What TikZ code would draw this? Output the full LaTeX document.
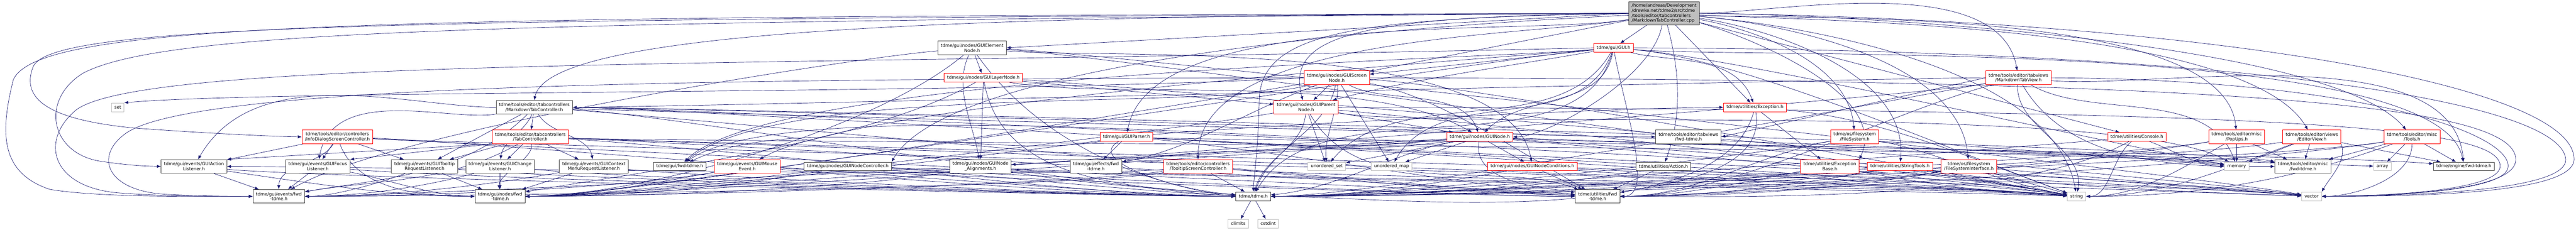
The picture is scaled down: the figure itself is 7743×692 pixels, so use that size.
\documentclass[tikz,border=0pt]{standalone}
\usepackage{fontspec}
\setmainfont{DejaVu Sans}
\usepackage{tikz}
\usetikzlibrary{arrows.meta}
\definecolor{midnightblue}{RGB}{25,25,112}
\definecolor{grey25}{RGB}{64,64,64}
\definecolor{grey75}{RGB}{191,191,191}
\pgfdeclarelayer{edges}
\pgfsetlayers{edges,main}

\begin{document}
\begin{tikzpicture}[line cap=round,line join=round,x=0.75pt,y=0.75pt,
  box/.style={line width=1pt,fill=white,align=center,inner xsep=6.5pt,inner ysep=1pt,
    minimum height=19.5pt,font=\fontsize{10}{11.25}\selectfont},
  hdr/.style={box,draw=grey25},
  trunc/.style={box,draw=red},
  sys/.style={box,draw=grey75},
  two/.style={minimum height=30.75pt},
  rootbox/.style={box,draw=grey25,fill=grey75,align=left,minimum height=52.5pt},
  dep/.style={draw=midnightblue,line width=0.8pt,-{Latex[length=9pt,width=7pt]}}]
\useasboundingbox (0,0) rectangle (7743,-692);

\node[rootbox] (root) at (5002,-40) {/home/andreas/Development\\/drewke.net/tdme2/src/tdme\\/tools/editor/tabcontrollers\\/MarkdownTabController.cpp};
\node[trunc] (gui) at (4850,-144) {tdme/gui/GUI.h};
\node[hdr,two] (elem) at (2922,-144) {tdme/gui/nodes/GUIElement\\Node.h};
\node[trunc,two] (scr) at (4018,-234) {tdme/gui/nodes/GUIScreen\\Node.h};
\node[trunc] (layer) at (2956,-234) {tdme/gui/nodes/GUILayerNode.h};
\node[trunc,two] (mtv) at (6067,-234) {tdme/tools/editor/tabviews\\/MarkdownTabView.h};
\node[trunc,two] (par) at (3926,-323) {tdme/gui/nodes/GUIParent\\Node.h};
\node[hdr,two] (mtc) at (1606,-323) {tdme/tools/editor/tabcontrollers\\/MarkdownTabController.h};
\node[trunc] (exc) at (5275,-323) {tdme/utilities/Exception.h};
\node[sys] (set) at (354,-323) {set};
\node[trunc,two] (info) at (1014,-412) {tdme/tools/editor/controllers\\/InfoDialogScreenController.h};
\node[trunc,two] (tabc) at (1594,-412) {tdme/tools/editor/tabcontrollers\\/TabController.h};
\node[trunc] (parser) at (3386,-412) {tdme/gui/GUIParser.h};
\node[trunc] (gnode) at (4448,-412) {tdme/gui/nodes/GUINode.h};
\node[hdr,two] (tvfwd) at (5075,-412) {tdme/tools/editor/tabviews\\/fwd-tdme.h};
\node[trunc,two] (fs) at (5575,-412) {tdme/os/filesystem\\/FileSystem.h};
\node[trunc] (console) at (6423,-412) {tdme/utilities/Console.h};
\node[trunc,two] (popups) at (6723,-412) {tdme/tools/editor/misc\\/PopUps.h};
\node[trunc,two] (edview) at (6949,-412) {tdme/tools/editor/views\\/EditorView.h};
\node[trunc,two] (tools) at (7250,-412) {tdme/tools/editor/misc\\/Tools.h};
\node[hdr,two] (action) at (583,-501) {tdme/gui/events/GUIAction\\Listener.h};
\node[hdr,two] (focus) at (955,-501) {tdme/gui/events/GUIFocus\\Listener.h};
\node[hdr,two] (tipl) at (1276,-501) {tdme/gui/events/GUITooltip\\RequestListener.h};
\node[hdr,two] (change) at (1503,-501) {tdme/gui/events/GUIChange\\Listener.h};
\node[hdr,two] (ctxmenu) at (1785,-501) {tdme/gui/events/GUIContext\\MenuRequestListener.h};
\node[hdr] (guifwd) at (2043,-501) {tdme/gui/fwd-tdme.h};
\node[trunc,two] (mouse) at (2246,-501) {tdme/gui/events/GUIMouse\\Event.h};
\node[hdr] (nctrl) at (2548,-501) {tdme/gui/nodes/GUINodeController.h};
\node[hdr,two] (align) at (2947,-501) {tdme/gui/nodes/GUINode\\\_Alignments.h};
\node[hdr,two] (efffwd) at (3294,-501) {tdme/gui/effects/fwd\\-tdme.h};
\node[trunc,two] (tipctrl) at (3601,-501) {tdme/tools/editor/controllers\\/TooltipScreenController.h};
\node[sys] (uset) at (3988,-501) {unordered\_set};
\node[sys] (umap) at (4183,-501) {unordered\_map};
\node[trunc] (cond) at (4606,-501) {tdme/gui/nodes/GUINodeConditions.h};
\node[hdr] (uaction) at (5000,-501) {tdme/utilities/Action.h};
\node[trunc,two] (excb) at (5500,-501) {tdme/utilities/Exception\\Base.h};
\node[trunc] (strt) at (5711,-501) {tdme/utilities/StringTools.h};
\node[trunc,two] (fsi) at (5918,-501) {tdme/os/filesystem\\/FileSystemInterface.h};
\node[sys] (memory) at (6723,-501) {memory};
\node[hdr,two] (miscfwd) at (6922,-501) {tdme/tools/editor/misc\\/fwd-tdme.h};
\node[sys] (array) at (7161,-501) {array};
\node[hdr] (engfwd) at (7406,-501) {tdme/engine/fwd-tdme.h};
\node[hdr,two] (evfwd) at (838,-591) {tdme/gui/events/fwd\\-tdme.h};
\node[hdr,two] (ndfwd) at (1503,-591) {tdme/gui/nodes/fwd\\-tdme.h};
\node[hdr] (tdme) at (3767,-591) {tdme/tdme.h};
\node[hdr,two] (utfwd) at (4802,-591) {tdme/utilities/fwd\\-tdme.h};
\node[sys] (string) at (6242,-591) {string};
\node[sys] (vector) at (6948,-591) {vector};
\node[sys] (climits) at (3722,-673) {climits};
\node[sys] (cstdint) at (3812,-673) {cstdint};

\begin{pgfonlayer}{edges}
% root file
\draw[dep] (root.west) .. controls (3000,-45) and (1650,-80) .. (mtc.north);
\draw[dep] (root) -- (gui);
\draw[dep] (root) .. controls +(-100:150pt) and +(0:150pt) .. (gnode);
\draw[dep] (root) -- (scr);
\draw[dep] (root.west) .. controls (4100,-50) and (3860,-100) .. (par.115);
\draw[dep] (root.west) -- (elem.east);
\draw[dep] (root) .. controls +(190:300pt) and +(80:300pt) .. (parser);
\draw[dep] (root) .. controls +(190:300pt) and +(90:300pt) .. (tipctrl);
\draw[dep] (root.west) .. controls (4100,-55) and (3790,-90) .. (3785,-300) .. controls (3782,-450) and (3770,-520) .. (tdme.north);
\draw[dep] (root) .. controls +(183:300pt) and +(60:300pt) .. (nctrl.north east);
\draw[dep] (root.west) .. controls (1500,-65) and (500,-90) .. (250,-220) .. controls (120,-300) and (150,-460) .. (300,-485) .. controls (400,-500) and (450,-500) .. (action.west);
\draw[dep] (root.west) .. controls (1200,-58) and (160,-70) .. (100,-200) .. controls (60,-300) and (150,-360) .. (400,-385) .. controls (600,-400) and (800,-410) .. (info.west);
\draw[dep] (root.west) .. controls (1200,-50) and (120,-60) .. (40,-240) .. controls (0,-400) and (0,-520) .. (150,-570) .. controls (300,-595) and (600,-591) .. (evfwd.west);
\draw[dep] (root) .. controls +(-10:180pt) and +(95:180pt) .. (fs);
\draw[dep] (root) .. controls +(-5:250pt) and +(95:250pt) .. (fsi);
\draw[dep] (root) .. controls +(-8:220pt) and +(85:220pt) .. (strt);
\draw[dep] (root) .. controls +(-15:170pt) and +(65:170pt) .. (excb.north east);
\draw[dep] (root) -- (exc);
\draw[dep] (root) .. controls +(0:250pt) and +(100:250pt) .. (mtv);
\draw[dep] (root) -- (console);
\draw[dep] (root) .. controls +(-3:300pt) and +(95:300pt) .. (popups);
\draw[dep] (root) .. controls +(-3:300pt) and +(120:300pt) .. (edview);
\draw[dep] (root) .. controls +(0:300pt) and +(130:300pt) .. (tools);
\draw[dep] (root) .. controls +(-75:130pt) and +(70:130pt) .. (uaction);
\draw[dep] (root) .. controls +(-5:300pt) and +(100:300pt) .. (string);
\draw[dep] (root.east) .. controls (6600,-60) and (7740,-250) .. (7737,-480) .. controls (7735,-580) and (7300,-591) .. (vector.east);
% GUI.h
\draw[dep] (gui.west) .. controls (2400,-200) and (450,-170) .. (230,-330) .. controls (120,-420) and (150,-560) .. (350,-580) .. controls (500,-592) and (650,-591) .. (evfwd.west);
\draw[dep] (gui) -- (scr);
\draw[dep] (gui) .. controls +(190:250pt) and +(15:250pt) .. (par);
\draw[dep] (gui) .. controls +(-100:140pt) and +(45:140pt) .. (gnode);
\draw[dep] (gui) .. controls +(185:300pt) and +(30:300pt) .. (mouse);
\draw[dep] (gui) .. controls +(185:300pt) and +(45:300pt) .. (guifwd);
\draw[dep] (gui) .. controls +(185:300pt) and +(0:300pt) .. (ndfwd);
\draw[dep] (gui) .. controls +(-105:300pt) and +(60:300pt) .. (tdme);
\draw[dep] (gui) .. controls +(-80:130pt) and +(0:130pt) .. (utfwd);
\draw[dep] (gui) .. controls +(-120:250pt) and +(50:250pt) .. (uset);
\draw[dep] (gui) .. controls +(-110:220pt) and +(60:220pt) .. (umap);
\draw[dep] (gui) .. controls +(-5:300pt) and +(160:300pt) .. (string);
\draw[dep] (gui) .. controls +(-5:300pt) and +(100:300pt) .. (engfwd);
\draw[dep] (gui) .. controls +(-5:300pt) and +(170:300pt) .. (memory);
\draw[dep] (gui) .. controls +(-15:130pt) and +(110:130pt) .. (exc);
\draw[dep] (gui.east) .. controls (6700,-150) and (7700,-300) .. (7712,-480) .. controls (7715,-570) and (7300,-589) .. (vector.east);
% GUIScreenNode.h
\draw[dep] (scr) -- (par);
\draw[dep] (scr) .. controls +(-85:70pt) and +(95:70pt) .. (uset);
\draw[dep] (scr) -- (umap);
\draw[dep] (scr) .. controls +(-30:120pt) and +(110:120pt) .. (gnode);
\draw[dep] (scr.west) .. controls (3000,-285) and (800,-270) .. (set.north east);
\draw[dep] (scr.west) .. controls (2200,-238) and (600,-250) .. (380,-400) .. controls (280,-470) and (320,-575) .. (500,-585) .. controls (600,-590) and (700,-591) .. (evfwd.west);
\draw[dep] (scr) .. controls +(190:300pt) and +(0:300pt) .. (ndfwd);
\draw[dep] (scr) .. controls +(-100:120pt) and +(70:120pt) .. (tdme);
\draw[dep] (scr) .. controls +(-10:220pt) and +(150:220pt) .. (utfwd);
\draw[dep] (scr) .. controls +(-3:300pt) and +(170:300pt) .. (string);
\draw[dep] (scr) .. controls +(195:300pt) and +(40:300pt) .. (guifwd);
\draw[dep] (scr) .. controls +(200:220pt) and +(10:220pt) .. (efffwd);
\draw[dep] (scr.east) .. controls (6800,-240) and (7560,-320) .. (7562,-480) .. controls (7562,-570) and (7250,-588) .. (vector.east);
% GUIParentNode.h
\draw[dep] (par) -- (gnode);
\draw[dep] (par) -- (uset);
\draw[dep] (par) .. controls +(-60:250pt) and +(160:250pt) .. (utfwd);
\draw[dep] (par) .. controls +(190:300pt) and +(0:300pt) .. (ndfwd);
\draw[dep] (par) .. controls +(-95:90pt) and +(75:90pt) .. (tdme);
\draw[dep] (par) .. controls +(-5:300pt) and +(170:300pt) .. (string);
\draw[dep] (par) .. controls +(-10:300pt) and +(150:300pt) .. (memory);
\draw[dep] (par.east) .. controls (6900,-330) and (7515,-380) .. (7515,-500) .. controls (7515,-570) and (7200,-590) .. (vector.east);
% GUIElementNode.h, GUILayerNode.h
\draw[dep] (elem) -- (layer);
\draw[dep] (elem) .. controls +(-115:100pt) and +(100:100pt) .. (align);
\draw[dep] (elem) .. controls +(-140:300pt) and +(0:300pt) .. (ndfwd);
\draw[dep] (elem) .. controls +(-55:250pt) and +(175:250pt) .. (tdme);
\draw[dep] (elem) .. controls +(-5:300pt) and +(100:300pt) .. (cond);
\draw[dep] (elem) .. controls +(-3:300pt) and +(170:300pt) .. (string);
\draw[dep] (elem) .. controls +(185:300pt) and +(30:300pt) .. (evfwd);
\draw[dep] (elem) .. controls +(-2:300pt) and +(170:300pt) .. (vector);
\draw[dep] (layer) -- (align);
\draw[dep] (layer) -- (par);
\draw[dep] (layer) .. controls +(-80:250pt) and +(175:250pt) .. (tdme);
\draw[dep] (layer) .. controls +(-150:300pt) and +(10:300pt) .. (ndfwd);
\draw[dep] (layer) .. controls +(-10:300pt) and +(150:300pt) .. (gnode);
\draw[dep] (layer) .. controls +(-3:300pt) and +(172:300pt) .. (vector);
% GUINode.h and friends
\draw[dep] (gnode) -- (cond);
\draw[dep] (gnode) -- (uset);
\draw[dep] (gnode) -- (umap);
\draw[dep] (gnode) .. controls +(-100:110pt) and +(170:110pt) .. (utfwd);
\draw[dep] (gnode) .. controls +(190:190pt) and +(5:190pt) .. (tdme);
\draw[dep] (gnode) .. controls +(185:300pt) and +(0:300pt) .. (ndfwd);
\draw[dep] (gnode) .. controls +(185:300pt) and +(0:300pt) .. (evfwd);
\draw[dep] (gnode) .. controls +(188:300pt) and +(10:300pt) .. (efffwd);
\draw[dep] (gnode) .. controls +(185:300pt) and +(35:300pt) .. (guifwd);
\draw[dep] (gnode) -- (align);
\draw[dep] (gnode) .. controls +(-3:300pt) and +(175:300pt) .. (engfwd);
\draw[dep] (gnode) .. controls +(-2:300pt) and +(178:300pt) .. (array);
\draw[dep] (gnode) .. controls +(-5:300pt) and +(172:300pt) .. (string);
\draw[dep] (gnode) .. controls +(-4:300pt) and +(175:300pt) .. (vector);
\draw[dep] (cond) -- (utfwd);
\draw[dep] (cond) .. controls +(190:230pt) and +(0:230pt) .. (tdme);
\draw[dep] (cond) .. controls +(-5:300pt) and +(175:300pt) .. (string);
\draw[dep] (cond) .. controls +(-3:300pt) and +(178:300pt) .. (vector);
\draw[dep] (nctrl) .. controls +(-5:300pt) and +(180:300pt) .. (tdme);
\draw[dep] (nctrl) .. controls +(190:280pt) and +(0:280pt) .. (ndfwd);
\draw[dep] (nctrl) .. controls +(-3:300pt) and +(180:300pt) .. (utfwd);
\draw[dep] (nctrl) .. controls +(-2:300pt) and +(178:300pt) .. (string);
\draw[dep] (align) .. controls +(-10:220pt) and +(175:220pt) .. (tdme);
\draw[dep] (align) .. controls +(190:300pt) and +(0:300pt) .. (ndfwd);
\draw[dep] (align) .. controls +(-4:300pt) and +(176:300pt) .. (string);
% GUIParser.h
\draw[dep] (parser) -- (efffwd);
\draw[dep] (parser) .. controls +(-150:120pt) and +(178:120pt) .. (tdme);
\draw[dep] (parser) .. controls +(190:300pt) and +(25:300pt) .. (guifwd);
\draw[dep] (parser) .. controls +(188:300pt) and +(0:300pt) .. (ndfwd);
\draw[dep] (parser) .. controls +(-5:300pt) and +(175:300pt) .. (utfwd);
\draw[dep] (parser) .. controls +(-3:300pt) and +(172:300pt) .. (string);
\draw[dep] (parser) .. controls +(-3:300pt) and +(175:300pt) .. (vector);
\draw[dep] (parser) .. controls +(-2:300pt) and +(170:300pt) .. (memory);
\draw[dep] (parser) .. controls +(5:300pt) and +(180:300pt) .. (exc);
% controllers
\draw[dep] (tipctrl) -- (tdme);
\draw[dep] (tipctrl) .. controls +(190:300pt) and +(0:300pt) .. (evfwd);
\draw[dep] (tipctrl) .. controls +(188:300pt) and +(0:300pt) .. (ndfwd);
\draw[dep] (tipctrl) .. controls +(-5:300pt) and +(175:300pt) .. (string);
\draw[dep] (tipctrl) .. controls +(-5:300pt) and +(178:300pt) .. (utfwd);
\draw[dep] (tipctrl) .. controls +(185:300pt) and +(0:300pt) .. (action);
\draw[dep] (mouse) .. controls +(-5:300pt) and +(180:300pt) .. (tdme);
\draw[dep] (mouse) .. controls +(190:300pt) and +(0:300pt) .. (evfwd);
\draw[dep] (mouse) .. controls +(-3:300pt) and +(180:300pt) .. (utfwd);
\draw[dep] (mouse) .. controls +(190:200pt) and +(0:200pt) .. (ndfwd);
\draw[dep] (mtc) -- (tabc);
\draw[dep] (mtc) .. controls +(-110:55pt) and +(85:55pt) .. (change);
\draw[dep] (mtc) -- (tipl);
\draw[dep] (mtc) .. controls +(-60:70pt) and +(100:70pt) .. (ctxmenu);
\draw[dep] (mtc) .. controls +(180:280pt) and +(60:280pt) .. (action);
\draw[dep] (mtc) .. controls +(190:190pt) and +(80:190pt) .. (focus);
\draw[dep] (mtc) .. controls +(-2:300pt) and +(180:300pt) .. (tvfwd);
\draw[dep] (mtc) .. controls +(-3:300pt) and +(178:300pt) .. (tdme);
\draw[dep] (mtc) .. controls +(0:300pt) and +(175:300pt) .. (string);
\draw[dep] (mtc) .. controls +(0:300pt) and +(172:300pt) .. (vector);
\draw[dep] (mtc) .. controls +(0:300pt) and +(170:300pt) .. (miscfwd);
\draw[dep] (mtc) .. controls +(-135:220pt) and +(10:220pt) .. (evfwd);
\draw[dep] (mtc) .. controls +(-4:300pt) and +(178:300pt) .. (utfwd);
\draw[dep] (mtc) .. controls +(0:300pt) and +(172:300pt) .. (memory);
\draw[dep] (tabc) -- (tipl);
\draw[dep] (tabc) -- (change);
\draw[dep] (tabc) -- (ctxmenu);
\draw[dep] (tabc) .. controls +(-80:50pt) and +(95:50pt) .. (ndfwd);
\draw[dep] (tabc.south west) -- (action.north east);
\draw[dep] (tabc.south west) -- (focus.north east);
\draw[dep] (tabc) .. controls +(-150:210pt) and +(10:210pt) .. (evfwd);
\draw[dep] (tabc) .. controls +(-3:300pt) and +(178:300pt) .. (tdme);
\draw[dep] (tabc) .. controls +(-2:300pt) and +(175:300pt) .. (string);
\draw[dep] (tabc) .. controls +(-2:300pt) and +(176:300pt) .. (utfwd);
\draw[dep] (tabc) .. controls +(-2:300pt) and +(172:300pt) .. (miscfwd);
\draw[dep] (tabc) .. controls +(-2:300pt) and +(174:300pt) .. (vector);
\draw[dep] (info) -- (action);
\draw[dep] (info) -- (focus);
\draw[dep] (info) -- (tipl);
\draw[dep] (info) .. controls +(-120:70pt) and +(90:70pt) .. (evfwd);
\draw[dep] (info) .. controls +(-70:140pt) and +(180:140pt) .. (ndfwd);
\draw[dep] (info) .. controls +(-2:300pt) and +(180:300pt) .. (tdme);
\draw[dep] (info) .. controls +(-3:300pt) and +(174:300pt) .. (string);
\draw[dep] (info) .. controls +(-3:300pt) and +(178:300pt) .. (utfwd);
% listeners
\draw[dep] (action) -- (evfwd);
\draw[dep] (action) .. controls +(-8:250pt) and +(180:250pt) .. (ndfwd);
\draw[dep] (action) .. controls +(-5:300pt) and +(180:300pt) .. (tdme);
\draw[dep] (focus) -- (evfwd);
\draw[dep] (focus) .. controls +(-10:150pt) and +(180:150pt) .. (ndfwd);
\draw[dep] (focus) .. controls +(-5:300pt) and +(180:300pt) .. (tdme);
\draw[dep] (tipl) .. controls +(-160:120pt) and +(0:120pt) .. (evfwd);
\draw[dep] (tipl) -- (ndfwd);
\draw[dep] (tipl) .. controls +(-5:300pt) and +(180:300pt) .. (tdme);
\draw[dep] (change) -- (ndfwd);
\draw[dep] (change) .. controls +(-165:180pt) and +(0:180pt) .. (evfwd);
\draw[dep] (change) .. controls +(-5:300pt) and +(180:300pt) .. (tdme);
\draw[dep] (ctxmenu) -- (ndfwd);
\draw[dep] (ctxmenu) .. controls +(-170:250pt) and +(0:250pt) .. (evfwd);
\draw[dep] (ctxmenu) .. controls +(-5:300pt) and +(180:300pt) .. (tdme);
% tab view
\draw[dep] (mtv) .. controls +(180:300pt) and +(0:300pt) .. (mtc);
\draw[dep] (mtv.west) -- (tvfwd.east);
\draw[dep] (mtv) .. controls +(-30:190pt) and +(110:190pt) .. (memory);
\draw[dep] (mtv) .. controls +(190:300pt) and +(0:300pt) .. (tdme);
\draw[dep] (mtv) .. controls +(-5:300pt) and +(95:300pt) .. (engfwd);
\draw[dep] (mtv) .. controls +(-60:240pt) and +(180:240pt) .. (miscfwd);
\draw[dep] (mtv) .. controls +(-95:110pt) and +(80:110pt) .. (string);
\draw[dep] (mtv) .. controls +(195:300pt) and +(0:300pt) .. (utfwd);
\draw[dep] (mtv) .. controls +(190:300pt) and +(0:300pt) .. (ndfwd);
\draw[dep] (mtv.east) .. controls (7100,-240) and (7540,-400) .. (7539,-500) .. controls (7539,-575) and (7200,-590) .. (vector.east);
% utilities and os
\draw[dep] (exc) -- (excb);
\draw[dep] (exc) .. controls +(-105:300pt) and +(0:300pt) .. (tdme);
\draw[dep] (exc) .. controls +(-80:150pt) and +(10:150pt) .. (utfwd);
\draw[dep] (exc) .. controls +(-5:280pt) and +(160:280pt) .. (string);
\draw[dep] (excb) .. controls +(-10:200pt) and +(178:200pt) .. (string);
\draw[dep] (excb) .. controls +(190:300pt) and +(0:300pt) .. (tdme);
\draw[dep] (excb) .. controls +(-170:190pt) and +(0:190pt) .. (utfwd);
\draw[dep] (fs) .. controls +(-5:300pt) and +(175:300pt) .. (memory);
\draw[dep] (fs) .. controls +(190:300pt) and +(0:300pt) .. (tdme);
\draw[dep] (fs) .. controls +(-170:220pt) and +(0:220pt) .. (utfwd);
\draw[dep] (fs) .. controls +(-10:190pt) and +(170:190pt) .. (string);
\draw[dep] (fsi) -- (string);
\draw[dep] (fsi) .. controls +(190:300pt) and +(0:300pt) .. (tdme);
\draw[dep] (fsi) .. controls +(-5:280pt) and +(175:280pt) .. (vector);
\draw[dep] (fsi) .. controls +(-170:300pt) and +(0:300pt) .. (utfwd);
\draw[dep] (strt) -- (string);
\draw[dep] (strt) .. controls +(190:300pt) and +(0:300pt) .. (tdme);
\draw[dep] (strt) .. controls +(-170:250pt) and +(0:250pt) .. (utfwd);
\draw[dep] (strt) .. controls +(-8:300pt) and +(178:300pt) .. (vector);
\draw[dep] (console) .. controls +(-140:75pt) and +(0:75pt) .. (string);
\draw[dep] (console) .. controls +(185:300pt) and +(0:300pt) .. (tdme);
\draw[dep] (console) .. controls +(-150:300pt) and +(0:300pt) .. (utfwd);
\draw[dep] (console) .. controls +(-20:85pt) and +(180:85pt) .. (memory);
\draw[dep] (uaction) -- (utfwd);
\draw[dep] (uaction) .. controls +(190:300pt) and +(0:300pt) .. (tdme);
% editor misc
\draw[dep] (popups) -- (memory);
\draw[dep] (popups) -- (miscfwd);
\draw[dep] (popups) .. controls +(190:300pt) and +(0:300pt) .. (tdme);
\draw[dep] (popups) .. controls +(-150:140pt) and +(0:140pt) .. (string);
\draw[dep] (popups) .. controls +(190:300pt) and +(0:300pt) .. (utfwd);
\draw[dep] (edview) -- (memory);
\draw[dep] (edview) -- (miscfwd);
\draw[dep] (edview.south east) .. controls +(-70:40pt) and +(60:40pt) .. (vector.north east);
\draw[dep] (edview) -- (engfwd);
\draw[dep] (edview) .. controls +(190:300pt) and +(0:300pt) .. (tdme);
\draw[dep] (edview) .. controls +(-160:200pt) and +(0:200pt) .. (string);
\draw[dep] (tools) -- (array);
\draw[dep] (tools) -- (engfwd);
\draw[dep] (tools) -- (miscfwd);
\draw[dep] (tools) .. controls +(-90:95pt) and +(0:95pt) .. (vector);
\draw[dep] (tools) .. controls +(190:300pt) and +(0:300pt) .. (tdme);
\draw[dep] (tools) .. controls +(-160:280pt) and +(0:280pt) .. (string);
\draw[dep] (tools) .. controls +(190:300pt) and +(0:300pt) .. (utfwd);
\draw[dep] (tdme) -- (climits);
\draw[dep] (tdme) -- (cstdint);
\end{pgfonlayer}
\end{tikzpicture}
\end{document}
